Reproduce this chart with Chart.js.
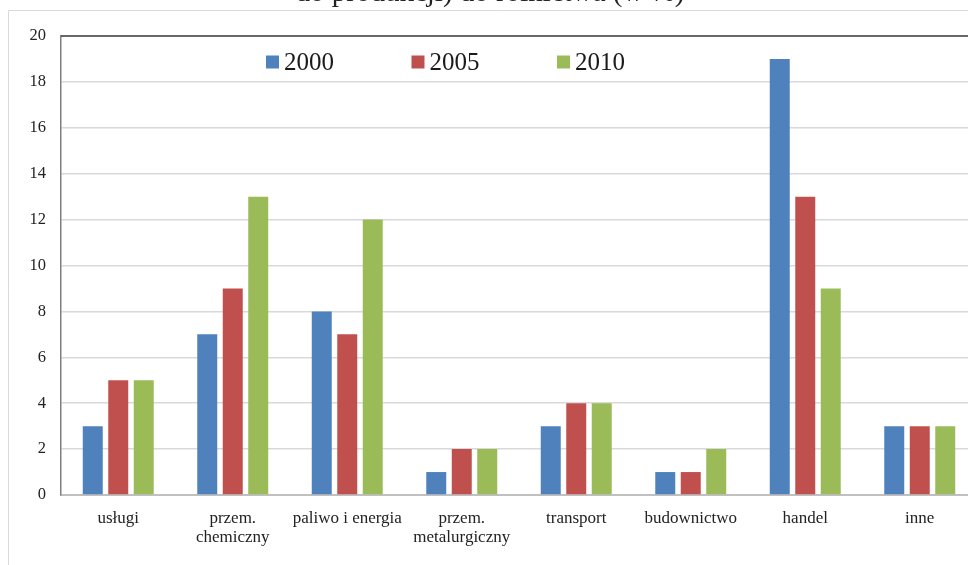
<!DOCTYPE html>
<html lang="pl">
<head>
<meta charset="utf-8">
<title>Udział sektorów (w %)</title>
<script src="https://cdn.jsdelivr.net/npm/chart.js@4.4.1/dist/chart.umd.min.js"></script>
<style>
  html, body { margin: 0; padding: 0; background: #fff; overflow: hidden; }
  #wrap { width: 968px; height: 565px; overflow: hidden; position: relative; }
  canvas { display: block; }
</style>
</head>
<body>
<div id="wrap"><canvas id="c" width="990" height="565"></canvas></div>
<script>
// Sektory
const categories = [
  'usługi',
  ['przem.', 'chemiczny'],
  'paliwo i energia',
  ['przem.', 'metalurgiczny'],
  'transport',
  'budownictwo',
  'handel',
  'inne'
];

// Udział w % dla kolejnych lat
const years = ['2000', '2005', '2010'];
const values2000 = [3, 7, 8, 1, 3, 1, 19, 3];
const values2005 = [5, 9, 7, 2, 4, 1, 13, 3];
const values2010 = [5, 13, 12, 2, 4, 2, 9, 3];

const yTicks = [0, 2, 4, 6, 8, 10, 12, 14, 16, 18, 20];

const titleText = 'do produkcji) do rolnictwa (w %)';

const SERIF = "'Liberation Serif', 'Times New Roman', serif";
const colors = ['#4F81BD', '#C0504D', '#9BBB59'];

// Ramka wykresu, tytuł i legenda rysowane na płótnie
const framePlugin = {
  id: 'frame',
  beforeDraw(chart) {
    const ctx = chart.ctx;
    ctx.save();
    ctx.strokeStyle = '#d9d9d9';
    ctx.lineWidth = 1;
    ctx.beginPath();
    ctx.moveTo(8.5, chart.height + 5);
    ctx.lineTo(8.5, 10.5);
    ctx.lineTo(chart.width + 5, 10.5);
    ctx.stroke();
    ctx.fillStyle = '#222';
    ctx.font = '29px ' + SERIF;
    ctx.textAlign = 'center';
    ctx.textBaseline = 'alphabetic';
    ctx.fillText(titleText, 490, 0.5);
    ctx.restore();
  },
  afterDraw(chart) {
    const ctx = chart.ctx;
    const a = chart.chartArea;
    ctx.save();
    // górna krawędź obszaru wykresu
    ctx.strokeStyle = '#404040';
    ctx.lineWidth = 1.5;
    ctx.beginPath();
    ctx.moveTo(a.left, a.top);
    ctx.lineTo(a.right + 20, a.top);
    ctx.stroke();
    // legenda
    const startX = 266, step = 145.5, cy = 62;
    ctx.font = '25px ' + SERIF;
    ctx.textBaseline = 'middle';
    ctx.textAlign = 'left';
    chart.data.datasets.forEach((ds, i) => {
      const x = startX + i * step;
      ctx.fillStyle = ds.backgroundColor;
      ctx.fillRect(x, cy - 6.5, 13, 13);
      ctx.fillStyle = '#1a1a1a';
      ctx.fillText(ds.label, x + 18, cy + 1);
    });
    ctx.restore();
  }
};

new Chart(document.getElementById('c'), {
  type: 'bar',
  data: {
    labels: categories,
    datasets: [
      { label: years[0], data: values2000, backgroundColor: colors[0] },
      { label: years[1], data: values2005, backgroundColor: colors[1] },
      { label: years[2], data: values2010, backgroundColor: colors[2] }
    ]
  },
  options: {
    responsive: false,
    animation: false,
    devicePixelRatio: 1,
    layout: { padding: { left: 0, top: 36, right: 13, bottom: 0 } },
    datasets: {
      bar: { categoryPercentage: 0.668, barPercentage: 0.784, borderWidth: 0 }
    },
    plugins: {
      legend: { display: false },
      title: { display: false },
      tooltip: { enabled: false }
    },
    scales: {
      x: {
        grid: { display: false, drawTicks: false },
        border: { display: true, color: '#c0c0c0', width: 2 },
        ticks: {
          padding: 14,
          color: '#222',
          maxRotation: 0,
          autoSkip: false,
          font: { family: SERIF, size: 17, lineHeight: 1.1 }
        },
        afterFit(scale) { scale.height = 70; }
      },
      y: {
        min: 0,
        max: 20,
        afterBuildTicks(scale) { scale.ticks = yTicks.map(v => ({ value: v })); },
        grid: {
          color: ctx => (ctx.tick && ctx.tick.value === 0) ? 'rgba(0,0,0,0)' : '#d9d9d9',
          lineWidth: 1.5,
          drawTicks: false
        },
        border: { display: true, color: '#7f7f7f', width: 1.5 },
        ticks: {
          padding: 15,
          color: '#222',
          font: { family: SERIF, size: 16.5 }
        },
        afterFit(scale) { scale.width = 61; }
      }
    }
  },
  plugins: [framePlugin]
});
</script>
</body>
</html>
